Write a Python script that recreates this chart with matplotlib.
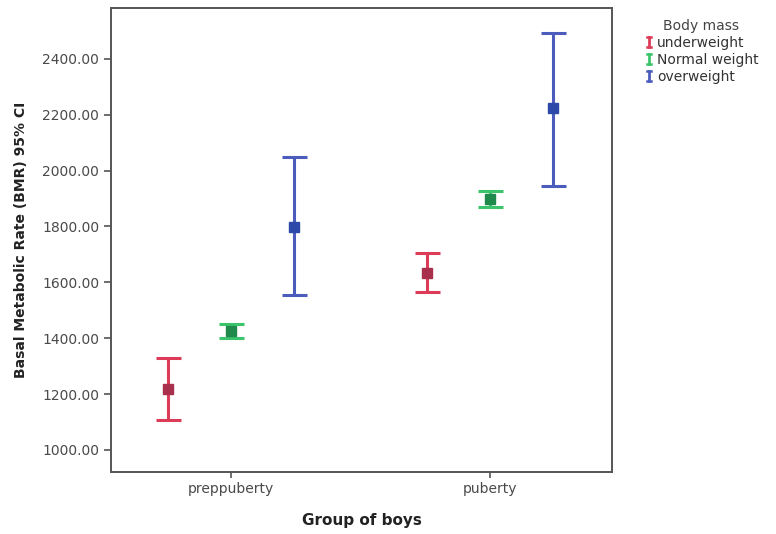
import numpy as np
import matplotlib.pyplot as plt
from matplotlib.lines import Line2D
from matplotlib.legend_handler import HandlerBase

plt.rcParams['font.family'] = ['DejaVu Sans']

# group means and 95% CI bounds of BMR
groups = ["preppuberty", "puberty"]
body_mass = ["underweight", "Normal weight", "overweight"]
bmr_mean = {
    "underweight": [1218, 1634],
    "Normal weight": [1426, 1899],
    "overweight": [1798, 2224],
}
ci_low = {
    "underweight": [1107, 1566],
    "Normal weight": [1401, 1870],
    "overweight": [1555, 1945],
}
ci_high = {
    "underweight": [1329, 1705],
    "Normal weight": [1451, 1927],
    "overweight": [2049, 2493],
}
yticks = [1000, 1200, 1400, 1600, 1800, 2000, 2200, 2400]

bar_colors = {"underweight": "#dc3c58", "Normal weight": "#3cc46c", "overweight": "#4c5cbc"}
mark_colors = {"underweight": "#a8304c", "Normal weight": "#1f8a4c", "overweight": "#2c48a8"}
offsets = {"underweight": -0.243, "Normal weight": 0.0, "overweight": 0.243}


class HandlerIBar(HandlerBase):
    # small "I" shaped error bar icon for the legend
    def create_artists(self, legend, orig_handle, xdescent, ydescent,
                       width, height, fontsize, trans):
        color = orig_handle.lines[2][0].get_color()
        cx = width / 2 - xdescent
        y0 = -ydescent + 0.05 * height
        y1 = height - ydescent - 0.05 * height
        hw = 0.22 * width
        arts = [
            Line2D([cx, cx], [y0, y1], color=color, lw=2),
            Line2D([cx - hw, cx + hw], [y0, y0], color=color, lw=1.8),
            Line2D([cx - hw, cx + hw], [y1, y1], color=color, lw=1.8),
        ]
        for a in arts:
            a.set_transform(trans)
        return arts


fig = plt.figure(figsize=(7.76, 5.34), dpi=100)
ax = fig.add_axes([0.143, 0.116, 0.646, 0.869])

x = np.arange(len(groups))
handles = []
for bm in body_mass:
    xs = x + offsets[bm]
    m = np.array(bmr_mean[bm])
    lo = m - np.array(ci_low[bm])
    hi = np.array(ci_high[bm]) - m
    h = ax.errorbar(xs, m, yerr=[lo, hi], fmt='none', ecolor=bar_colors[bm],
                    elinewidth=2.2, capsize=9, capthick=2.2, label=bm)
    ax.plot(xs, m, 's', color=mark_colors[bm], markersize=6.5, zorder=3)
    handles.append(h)

ax.set_xlim(-0.463, 1.471)
ax.set_ylim(921, 2582)
ax.set_xticks(x)
ax.set_xticklabels(groups)
ax.set_yticks(yticks)
ax.set_yticklabels([f"{v:.2f}" for v in yticks])

for s in ax.spines.values():
    s.set_color("#555555")
    s.set_linewidth(1.4)
ax.tick_params(axis='both', colors="#555555", labelcolor="#4a4a4a", labelsize=10,
               direction='out', width=1.2)
ax.tick_params(axis='y', length=5)
ax.tick_params(axis='x', length=4)

ax.set_xlabel("Group of boys", fontsize=11, fontweight='bold', color="#222222", labelpad=12)
ax.set_ylabel("Basal Metabolic Rate (BMR) 95% CI", fontsize=10, fontweight='bold',
              color="#222222", labelpad=10)

hmap = {h: HandlerIBar() for h in handles}
leg = fig.legend(handles=handles, labels=body_mass, title="Body mass",
                 loc='upper left', bbox_to_anchor=(0.822, 0.975), frameon=False,
                 fontsize=10, title_fontsize=10, handlelength=0.8, handleheight=0.8,
                 handletextpad=0.2, labelspacing=0.22, borderaxespad=0,
                 handler_map=hmap)
leg.get_title().set_color("#444444")
for t in leg.get_texts():
    t.set_color("#333333")

fig.savefig("out.png", dpi=100)
